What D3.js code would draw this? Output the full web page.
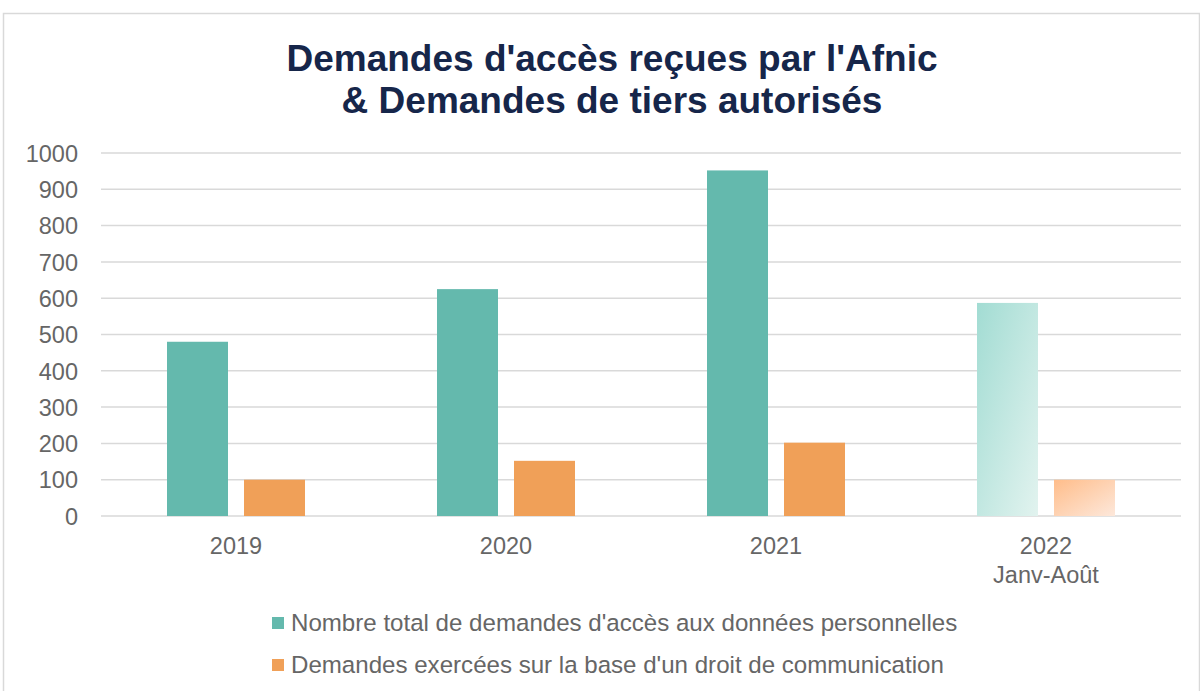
<!DOCTYPE html>
<html><head><meta charset="utf-8">
<script src="https://cdn.jsdelivr.net/npm/d3@7"></script>
<style>body{margin:0;background:#fff;}svg{display:block;font-family:"Liberation Sans",Arial,sans-serif;}</style>
</head><body>
<script>
const categories = ["2019", "2020", "2021", "2022"];
const subLabels = ["", "", "", "Janv-Août"];
const seriesNames = ["Nombre total de demandes d'accès aux données personnelles", "Demandes exercées sur la base d'un droit de communication"];
const totalRequests = [480, 625, 952, 587];
const communicationRequests = [100, 152, 202, 100];
const yTicks = [0, 100, 200, 300, 400, 500, 600, 700, 800, 900, 1000];

(function () {
const W = 1200, H = 691;
const textGray = "#666666";
const svg = d3.select("body").append("svg").attr("width", W).attr("height", H);
const defs = svg.append("defs");
function grad(id, c1, c2) {
  const g = defs.append("linearGradient").attr("id", id).attr("x1", "0").attr("y1", "0").attr("x2", "1").attr("y2", "1");
  g.append("stop").attr("offset", "0").attr("stop-color", c1);
  g.append("stop").attr("offset", "1").attr("stop-color", c2);
}
grad("gTeal", "#a2dcd3", "#e2f3ef");
grad("gOrange", "#ffbd8a", "#fde8db");

svg.append("rect").attr("x", 3.5).attr("y", 13.5).attr("width", W - 4).attr("height", H).attr("fill", "#fff").attr("stroke", "#d9d9d9").attr("stroke-width", 1.5);

const title = svg.append("text").attr("text-anchor", "middle").attr("fill", "#16264a").attr("font-weight", "bold").attr("font-size", 37);
title.append("tspan").attr("x", 612).attr("y", 71).text("Demandes d'accès reçues par l'Afnic");
title.append("tspan").attr("x", 612).attr("y", 113).text("& Demandes de tiers autorisés");

const pLeft = 101, pRight = 1181, pTop = 153, pBottom = 516;
const x = d3.scaleBand().domain(categories).range([pLeft, pRight]);
const y = d3.scaleLinear().domain([0, 1000]).range([pBottom, pTop]);

const grid = svg.append("g");
grid.selectAll("line").data(yTicks).join("line")
  .attr("x1", pLeft).attr("x2", pRight)
  .attr("y1", d => y(d)).attr("y2", d => y(d))
  .attr("stroke", "#d9d9d9").attr("stroke-width", 1.5);

const yAxis = d3.axisLeft(y).tickValues(yTicks).tickFormat(d3.format("d")).tickSize(0).tickPadding(0);
const ya = svg.append("g").attr("transform", `translate(${pLeft - 23},0)`).call(yAxis);
ya.select(".domain").remove();
ya.selectAll("text").attr("font-size", 23.5).attr("fill", textGray).attr("font-family", "'Liberation Sans', Arial, sans-serif").attr("dy", "0.35em");

const barW = 61, gap = 16;
const sub = d3.scaleOrdinal().domain([0, 1]).range([-(gap / 2 + barW), gap / 2]);
const colors = ["#64b9ad", "#f0a058"];
const gradIds = ["url(#gTeal)", "url(#gOrange)"];
const series = [totalRequests, communicationRequests];
series.forEach((vals, si) => {
  svg.append("g").selectAll("rect").data(vals).join("rect")
    .attr("x", (d, i) => x(categories[i]) + x.bandwidth() / 2 + sub(si))
    .attr("y", d => y(d))
    .attr("width", barW)
    .attr("height", d => pBottom - y(d))
    .attr("fill", (d, i) => i === 3 ? gradIds[si] : colors[si]);
});

const xl = svg.append("g");
categories.forEach((c, i) => {
  xl.append("text").attr("text-anchor", "middle").attr("fill", textGray).attr("font-size", 23.5)
    .attr("x", x(c) + x.bandwidth() / 2).attr("y", 554).text(c);
  if (subLabels[i]) xl.append("text").attr("text-anchor", "middle").attr("fill", textGray).attr("font-size", 23.5)
    .attr("x", x(c) + x.bandwidth() / 2).attr("y", 583).text(subLabels[i]);
});

const lg = svg.append("g");
seriesNames.forEach((n, i) => {
  const yy = 623 + i * 42;
  lg.append("rect").attr("x", 272).attr("y", yy - 6).attr("width", 12).attr("height", 12).attr("fill", colors[i]);
  lg.append("text").attr("x", 291).attr("y", yy).attr("dy", "0.35em").attr("font-size", 24.1).attr("fill", textGray).text(n);
});
})();
</script>
</body></html>
